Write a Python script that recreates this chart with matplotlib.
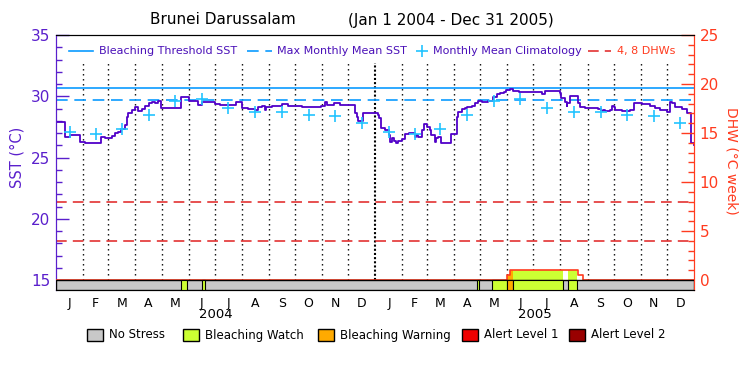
import numpy as np
import pandas as pd
import matplotlib
matplotlib.use("Agg")
import matplotlib.pyplot as plt
import matplotlib.transforms as mtransforms
from matplotlib.ticker import FixedLocator
from matplotlib.patches import Rectangle
from matplotlib.lines import Line2D

# === DATA === (x = days since Jan 1 2004)
sst_day = [0, 10, 16, 28, 33, 51, 56, 60, 64, 68, 71, 75, 79, 81, 83, 87, 90, 94, 99, 102,
           106, 110, 113, 117, 120, 143, 152, 163, 167, 182, 188, 206, 213, 220, 228, 232,
           236, 239, 241, 247, 259, 266, 274, 282, 289, 297, 304, 308, 310, 318, 322, 325,
           343, 345, 346, 352, 369, 370, 372, 377, 381, 383, 385, 387, 389, 392, 396, 400,
           404, 408, 411, 413, 415, 419, 422, 425, 428, 430, 434, 435, 438, 441, 453, 459,
           461, 465, 469, 471, 474, 477, 480, 483, 488, 495, 501, 505, 509, 513, 516, 520,
           524, 530, 541, 557, 560, 578, 579, 583, 585, 586, 589, 598, 600, 606, 621, 625,
           627, 629, 635, 637, 639, 641, 648, 658, 662, 665, 671, 681, 686, 692, 700, 704,
           706, 709, 717, 723, 725, 727, 728, 731]
sst_val = [27.93, 26.70, 26.84, 26.29, 26.21, 26.70, 26.62, 26.57, 26.76, 26.97, 27.11, 27.30,
           27.65, 28.33, 28.61, 28.88, 29.15, 28.82, 28.93, 29.20, 29.48, 29.56, 29.42, 29.64,
           29.01, 29.91, 29.64, 29.29, 29.56, 29.37, 29.29, 29.56, 29.01, 28.96, 28.88, 29.15,
           29.20, 28.88, 29.10, 29.23, 29.34, 29.23, 29.20, 29.15, 29.10, 29.15, 29.20, 29.56,
           29.29, 29.42, 29.48, 29.29, 28.61, 28.33, 28.01, 28.61, 28.47, 28.20, 27.38, 27.24,
           26.84, 26.29, 26.57, 26.37, 26.16, 26.35, 26.48, 26.92, 27.03, 26.97, 26.70, 26.84,
           26.65, 27.24, 27.71, 27.52, 27.24, 26.84, 26.29, 26.57, 26.70, 26.21, 26.92, 28.33,
           28.74, 28.93, 29.07, 29.15, 29.10, 29.20, 29.48, 29.64, 29.56, 29.64, 29.97, 30.18,
           30.29, 30.37, 30.51, 30.59, 30.43, 30.37, 30.32, 30.18, 30.46, 30.24, 29.83, 29.56,
           29.20, 29.42, 30.02, 29.42, 29.10, 29.01, 28.93, 28.82, 28.88, 28.82, 28.88, 29.20,
           29.15, 28.88, 28.82, 28.88, 29.42, 29.48, 29.37, 29.20, 29.01, 28.88, 28.69, 29.56,
           29.42, 29.15, 28.93, 28.66, 28.61, 28.33, 26.16, 26.02]

clim_val = [27.05, 26.90, 27.30, 28.45, 29.65, 29.75, 29.08, 28.74, 28.72, 28.45, 28.42, 27.80]
bleach_threshold = 30.67
mmm = 29.67

dhw_day = [0, 517, 520, 598, 604, 731]
dhw_val = [0, 0.5, 1.0, 0.5, 0, 0]

alert_start = [143, 167, 482, 500, 517, 524, 587]
alert_end = [150, 171, 485, 517, 524, 580.5, 597.3]
alert_level = [1, 1, 1, 1, 2, 1, 1]

stress_names = ["No Stress", "Bleaching Watch", "Bleaching Warning", "Alert Level 1", "Alert Level 2"]
stress_colors = ["#c8c8c8", "#ccff33", "#ffaa00", "#ee0000", "#990000"]
month_letters = list("JFMAMJJASOND")
years = ["2004", "2005"]

# === STYLE ===
PURPLE = "#5a1fcc"
ORANGE = "#ff3b1f"
SST_COL = "#5000c8"
BLUE = "#0a9bff"
CYAN = "#22c4ff"
RED = "#e02020"
plt.rcParams["font.family"] = ["DejaVu Sans"]

edges = (pd.date_range("2004-01-01", "2006-01-01", freq="MS") - pd.Timestamp("2004-01-01")).days.values
centers = (edges[:-1] + edges[1:]) / 2

fig = plt.figure(figsize=(7.5, 3.75), dpi=100)
ax = fig.add_axes([56 / 750, 85 / 375, 638 / 750, 255 / 375])
ax2 = ax.twinx()

ax.set_xlim(0, 731)
ax.set_ylim(15 - 10 / 12.25, 35)
ax2.set_ylim(-10 / 9.8, 25)

# month separators
for e in edges[1:-1]:
    if e == 366:
        ax.plot([e, e], [15, 32.7], color="black", lw=1.5, dashes=(1, 1), zorder=1)
    else:
        ax.plot([e, e], [15, 32.7], color="black", lw=1, dashes=(1, 2.6), zorder=1)

ax.axhline(bleach_threshold, color=BLUE, lw=1.2, zorder=2)
ax.axhline(mmm, color=BLUE, lw=1.2, dashes=(7, 4), zorder=2)
ax2.axhline(4, color=RED, lw=1.1, dashes=(7, 4), zorder=2)
ax2.axhline(8, color=RED, lw=1.1, dashes=(7, 4), zorder=2)

ax.plot(sst_day, sst_val, drawstyle="steps-post", color=SST_COL, lw=1.3, zorder=3)
ax.plot(centers, clim_val * 2, ls="none", marker="+", ms=9, mew=1.2, color=CYAN, zorder=4)

# stress bar + dhw
def dhw_at(x):
    i = np.searchsorted(dhw_day, x, side="right") - 1
    return np.array(dhw_val)[i]

for s, e, lv in zip(alert_start, alert_end, alert_level):
    xs = np.array([s] + [d for d in dhw_day if s < d < e] + [e], dtype=float)
    ys = dhw_at(xs)
    if ys.max() > 0:
        ax2.fill_between(xs, 0, ys, step="post", color=stress_colors[lv], lw=0, zorder=2)

ax2.plot(dhw_day, dhw_val, drawstyle="steps-post", color=ORANGE, lw=1.2, zorder=3)

bar_lo = -10 / 9.8
ax2.add_patch(Rectangle((0, bar_lo), 731, -bar_lo, fc=stress_colors[0], ec="black", lw=1, zorder=4))
for s, e, lv in zip(alert_start, alert_end, alert_level):
    ax2.add_patch(Rectangle((s, bar_lo), e - s, -bar_lo, fc=stress_colors[lv], ec="black", lw=0.8, zorder=4))

# axes styling
for a in (ax, ax2):
    a.spines["left"].set_color(PURPLE)
    a.spines["right"].set_color(ORANGE)
    a.spines["top"].set_color("black")
    a.spines["bottom"].set_color("black")

ax.yaxis.set_major_locator(FixedLocator([15, 20, 25, 30, 35]))
ax.yaxis.set_minor_locator(FixedLocator(range(15, 36)))
ax.tick_params(axis="y", which="major", direction="in", length=9.5, width=1, color=PURPLE,
               labelcolor=PURPLE, labelsize=11, pad=4)
ax.tick_params(axis="y", which="minor", direction="in", length=4.5, width=1, color=PURPLE)

ax2.yaxis.set_major_locator(FixedLocator([0, 5, 10, 15, 20, 25]))
ax2.yaxis.set_minor_locator(FixedLocator(range(0, 26)))
ax2.tick_params(axis="y", which="major", direction="in", length=9.5, width=1, color=ORANGE,
                labelcolor=ORANGE, labelsize=11, pad=4)
ax2.tick_params(axis="y", which="minor", direction="in", length=4.5, width=1, color=ORANGE)

ax.set_xticks(centers)
ax.set_xticklabels(month_letters * 2)
ax.tick_params(axis="x", length=0, labelsize=9, pad=5)

trans = mtransforms.blended_transform_factory(ax.transData, ax.transAxes)
for i, y in enumerate(years):
    ax.text((edges[12 * i] + edges[12 * i + 12]) / 2, -0.098, y, transform=trans,
            ha="center", va="center", fontsize=9.5)

fig.text(17 / 750, 1 - 157 / 375, "SST (°C)", rotation=90, color=PURPLE, fontsize=10.5,
         ha="center", va="center")
fig.text(732 / 750, 1 - 161 / 375, "DHW (°C week)", rotation=270, color=ORANGE, fontsize=10,
         ha="center", va="center")

# title
fig.text(150 / 750, 1 - 20 / 375, "Brunei Darussalam", ha="left", va="center", fontsize=11)
fig.text(348 / 750, 1 - 20 / 375, "(Jan 1 2004 - Dec 31 2005)", ha="left", va="center", fontsize=11)

# top legend
ly = 0.937
TXT = "#4a10b8"
ax.add_line(Line2D([0.0204, 0.058], [ly, ly], transform=ax.transAxes, color=BLUE, lw=1.2))
ax.text(0.0674, ly, "Bleaching Threshold SST", transform=ax.transAxes, va="center", fontsize=8, color=TXT)
ax.add_line(Line2D([0.299, 0.338], [ly, ly], transform=ax.transAxes, color=BLUE, lw=1.2, dashes=(7, 4)))
ax.text(0.346, ly, "Max Monthly Mean SST", transform=ax.transAxes, va="center", fontsize=8, color=TXT)
ax.add_line(Line2D([0.573], [ly], transform=ax.transAxes, color=CYAN, marker="+", ms=9, mew=1.2, ls="none"))
ax.text(0.591, ly, "Monthly Mean Climatology", transform=ax.transAxes, va="center", fontsize=8, color=TXT)
ax.add_line(Line2D([0.834, 0.870], [ly, ly], transform=ax.transAxes, color=RED, lw=1.1, dashes=(7, 4)))
ax.text(0.879, ly, "4, 8 DHWs", transform=ax.transAxes, va="center", fontsize=8, color=ORANGE)

# bottom legend
box_x = [87, 183, 318, 462, 569]
for bx, name, col in zip(box_x, stress_names, stress_colors):
    fig.add_artist(Rectangle((bx / 750, 34 / 375), 16 / 750, 12 / 375, transform=fig.transFigure,
                             fc=col, ec="black", lw=1))
    fig.text((bx + 22) / 750, 40 / 375, name, ha="left", va="center", fontsize=8.5)

fig.savefig("out.png", dpi=100)
